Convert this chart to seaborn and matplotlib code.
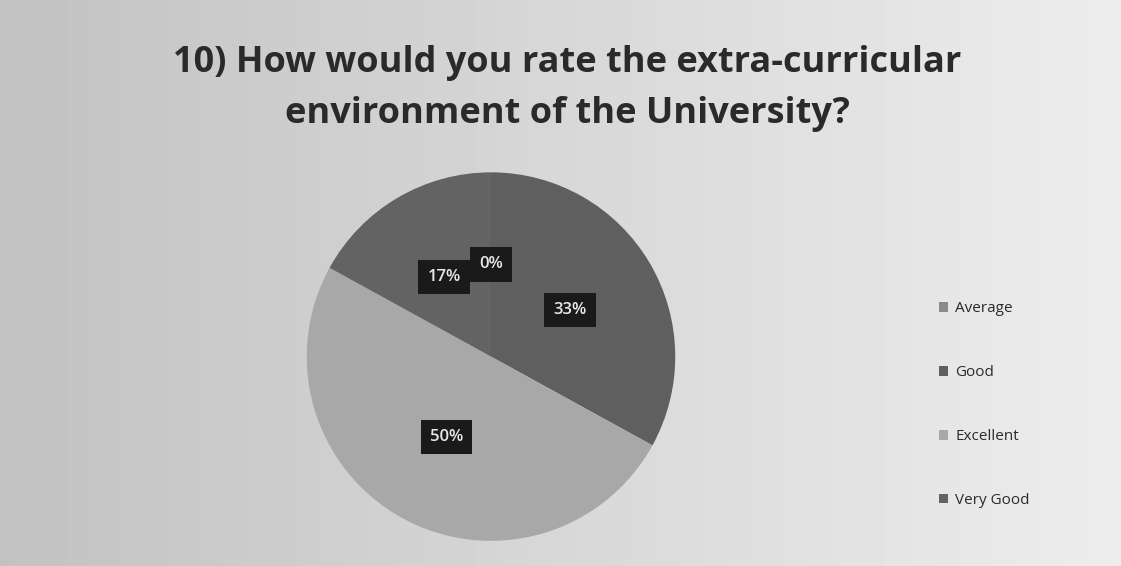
import numpy as np
import seaborn as sns
import matplotlib.pyplot as plt
from matplotlib.patches import Patch

sns.set_theme(style="white")
plt.rcParams['font.family'] = ['Open Sans', 'DejaVu Sans']

# survey answers
ratings = ["Average", "Good", "Excellent", "Very Good"]
shares = [0, 33, 50, 17]
pct_labels = ["0%", "33%", "50%", "17%"]
title = "10) How would you rate the extra-curricular\nenvironment of the University?"

colors = ["#8a8a8a", "#5f5f5f", "#a8a8a8", "#636363"]

fig = plt.figure(figsize=(11.21, 5.66), dpi=100)

# greyish photo-like background
bg = fig.add_axes([0, 0, 1, 1])
grad = np.linspace(0.76, 0.93, 256).reshape(1, -1)
bg.imshow(grad, cmap="gray", vmin=0, vmax=1, aspect="auto", extent=[0, 1, 0, 1])
bg.axis("off")

ax = fig.add_axes([0.438 - 0.166, 0.370 - 0.330, 0.332, 0.660])
wedges, texts = ax.pie(shares, colors=colors, startangle=90, counterclock=False,
                       radius=1.0, wedgeprops=dict(linewidth=0))
for w, lab in zip(wedges, pct_labels):
    ang = np.deg2rad((w.theta1 + w.theta2) / 2)
    ax.text(0.5 * np.cos(ang), 0.5 * np.sin(ang), lab, ha="center", va="center",
            fontsize=12, color="#e8e8e8", fontweight="semibold",
            bbox=dict(boxstyle="square,pad=0.55", fc="#1a1a1a", ec="none"))
ax.set_xlim(-1.01, 1.01)
ax.set_ylim(-1.01, 1.01)
ax.set_aspect("equal")
ax.axis("off")

fig.text(0.506, 0.843, title, ha="center", va="center", fontsize=26,
         fontweight="bold", color="#2a2a2a", linespacing=1.55)

handles = [Patch(facecolor=c, edgecolor="none") for c in colors]
fig.legend(handles, ratings, loc="center left", bbox_to_anchor=(0.825, 0.285),
           frameon=False, fontsize=11, labelspacing=3.2, handlelength=0.6,
           handleheight=0.6, handletextpad=0.5, labelcolor="#2a2a2a")

fig.savefig("out.png", dpi=100)
